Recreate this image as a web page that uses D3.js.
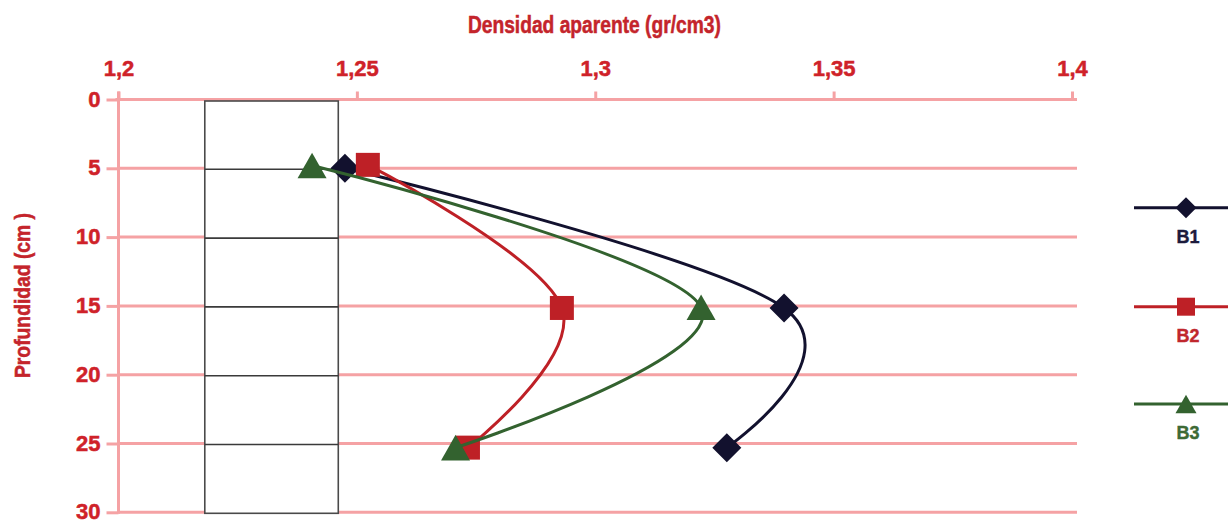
<!DOCTYPE html>
<html>
<head>
<meta charset="utf-8">
<script src="https://cdn.jsdelivr.net/npm/d3@7/dist/d3.min.js"></script>
<style>
  html, body { margin: 0; padding: 0; background: #ffffff; }
  svg { display: block; }
  text { font-family: "Liberation Sans Narrow", "Arial Narrow", "Liberation Sans", Arial, sans-serif; font-weight: bold; }
</style>
</head>
<body>
<svg id="chart" width="1228" height="522"></svg>
<script>
// ---- data ----
const seriesNames = ["B1", "B2", "B3"];
const b1Density = [1.2475, 1.3396, 1.3276];
const b1Depth = [5.0, 15.15, 25.3];
const b2Density = [1.2523, 1.2930, 1.2733];
const b2Depth = [4.75, 15.15, 25.3];
const b3Density = [1.2406, 1.3222, 1.2707];
const b3Depth = [4.8, 15.1, 25.3];
const xTicks = [1.2, 1.25, 1.3, 1.35, 1.4];
const xTickLabels = ["1,2", "1,25", "1,3", "1,35", "1,4"];
const yTicks = [0, 5, 10, 15, 20, 25, 30];
const profileDensity = [1.2181, 1.2461];
const profileDepths = [0, 5, 10, 15, 20, 25, 30];
const xTitle = "Densidad aparente (gr/cm3)";
const yTitle = "Profundidad (cm )";

// ---- styles ----
const colors = { B1: "#12112e", B2: "#be2026", B3: "#33622f" };
const labelColors = { B1: "#1c1b3c", B2: "#c0272d", B3: "#3d6a35" };
const markers = { B1: "diamond", B2: "square", B3: "triangle" };
const gridColor = "#f5a2a4";
const textRed = "#cf2229";

const svg = d3.select("#chart");
const x = d3.scaleLinear().domain([1.2, 1.4]).range([118.5, 1072]);
const y = d3.scaleLinear().domain([0, 30]).range([99.5, 512.3]);
const gridRight = x(1.4) + 5;

// grid lines
svg.append("g").selectAll("line").data(yTicks.filter(d => d !== 0)).join("line")
  .attr("x1", x(1.2)).attr("x2", gridRight)
  .attr("y1", d => y(d)).attr("y2", d => y(d))
  .attr("stroke", gridColor).attr("stroke-width", 3);

// top axis
const xAxis = d3.axisTop(x).tickValues(xTicks)
  .tickFormat((d, i) => xTickLabels[i]).tickSize(8).tickPadding(16).tickSizeOuter(0);
const gx = svg.append("g").attr("transform", `translate(0,${y(0)})`).call(xAxis);
gx.select(".domain").remove();
gx.append("line").attr("x1", x(1.2) - 3).attr("x2", gridRight).attr("y1", 0).attr("y2", 0)
  .attr("stroke", gridColor).attr("stroke-width", 3);
gx.selectAll(".tick line").attr("stroke", gridColor).attr("stroke-width", 3);
gx.selectAll(".tick text").attr("fill", textRed).attr("font-size", 22)
  .attr("stroke", textRed).attr("stroke-width", 0.5)
  .style("font-family", '"Liberation Sans Narrow", "Arial Narrow", sans-serif').style("font-weight", "bold");

// left axis
const yAxis = d3.axisLeft(y).tickValues(yTicks).tickFormat(d3.format("d"))
  .tickSize(12).tickPadding(6).tickSizeOuter(0);
const gy = svg.append("g").attr("transform", `translate(${x(1.2)},0)`).call(yAxis);
gy.select(".domain").remove();
gy.append("line").attr("x1", 0).attr("x2", 0).attr("y1", y(0) - 8).attr("y2", y(30) + 1.5)
  .attr("stroke", gridColor).attr("stroke-width", 3);
gy.selectAll(".tick line").attr("stroke", gridColor).attr("stroke-width", 3);
gy.selectAll(".tick text").attr("fill", textRed).attr("font-size", 22).attr("dy", "0.3em")
  .attr("stroke", textRed).attr("stroke-width", 0.5)
  .style("font-family", '"Liberation Sans Narrow", "Arial Narrow", sans-serif').style("font-weight", "bold");

// soil profile box
const prof = svg.append("g");
prof.append("rect")
  .attr("x", x(profileDensity[0])).attr("y", y(profileDepths[0]) + 1.5)
  .attr("width", x(profileDensity[1]) - x(profileDensity[0]))
  .attr("height", y(profileDepths[profileDepths.length - 1]) - y(profileDepths[0]) - 0.5)
  .attr("fill", "#ffffff").attr("stroke", "#4a4a4a").attr("stroke-width", 1.6);
prof.selectAll("line").data(profileDepths.slice(1, -1)).join("line")
  .attr("x1", x(profileDensity[0])).attr("x2", x(profileDensity[1]))
  .attr("y1", d => y(d) + 1).attr("y2", d => y(d) + 1)
  .attr("stroke", "#3a3a3a").attr("stroke-width", 1.6);

// marker path generator
function markerPath(type, s) {
  if (type === "diamond") {
    const h = s / 2;
    return `M0,${-h}L${h},0L0,${h}L${-h},0Z`;
  } else if (type === "square") {
    const h = s / 2;
    return `M${-h},${-h}H${h}V${h}H${-h}Z`;
  } else {
    const w = s, hh = s * 0.88;
    return `M0,${-hh / 2}L${w / 2},${hh / 2}L${-w / 2},${hh / 2}Z`;
  }
}
const markerSize = { diamond: 29, square: 24, triangle: 29 };
const legendMarkerSize = { diamond: 21, square: 18, triangle: 21 };

// series
const series = [
  { name: "B1", dens: b1Density, dep: b1Depth },
  { name: "B2", dens: b2Density, dep: b2Depth },
  { name: "B3", dens: b3Density, dep: b3Depth }
];
const line = d3.line().curve(d3.curveCardinal.tension(-0.1)).x(d => x(d[0])).y(d => y(d[1]));
series.forEach(s => {
  const pts = s.dens.map((v, i) => [v, s.dep[i]]);
  const g = svg.append("g");
  g.append("path").attr("d", line(pts)).attr("fill", "none")
    .attr("stroke", colors[s.name]).attr("stroke-width", 3);
  g.selectAll("path.mk").data(pts).join("path").attr("class", "mk")
    .attr("transform", d => `translate(${x(d[0])},${y(d[1])})`)
    .attr("d", markerPath(markers[s.name], markerSize[markers[s.name]]))
    .attr("fill", colors[s.name]);
});

// legend
const legendY = [207.7, 306.7, 404];
const leg = svg.append("g");
seriesNames.forEach((n, i) => {
  const g = leg.append("g").attr("transform", `translate(0,${legendY[i]})`);
  g.append("line").attr("x1", 1134).attr("x2", 1228).attr("y1", 0).attr("y2", 0)
    .attr("stroke", colors[n]).attr("stroke-width", 3);
  g.append("path").attr("transform", "translate(1186,0)")
    .attr("d", markerPath(markers[n], legendMarkerSize[markers[n]])).attr("fill", colors[n]);
  g.append("text").attr("x", 1188).attr("y", 35).attr("text-anchor", "middle")
    .attr("font-size", 18).attr("fill", labelColors[n])
    .attr("stroke", labelColors[n]).attr("stroke-width", 0.4).text(n);
});

// titles
svg.append("text").attr("x", 594.4).attr("y", 33).attr("text-anchor", "middle")
  .attr("font-size", 24).attr("fill", "#c4242b").attr("stroke", "#c4242b").attr("stroke-width", 0.5)
  .attr("textLength", 253).attr("lengthAdjust", "spacingAndGlyphs").text(xTitle);
svg.append("text").attr("transform", "translate(30,295.5) rotate(-90)")
  .attr("text-anchor", "middle").attr("font-size", 22).attr("fill", "#c4242b")
  .attr("stroke", "#c4242b").attr("stroke-width", 0.5)
  .attr("textLength", 165).attr("lengthAdjust", "spacingAndGlyphs").text(yTitle);
</script>
</body>
</html>
